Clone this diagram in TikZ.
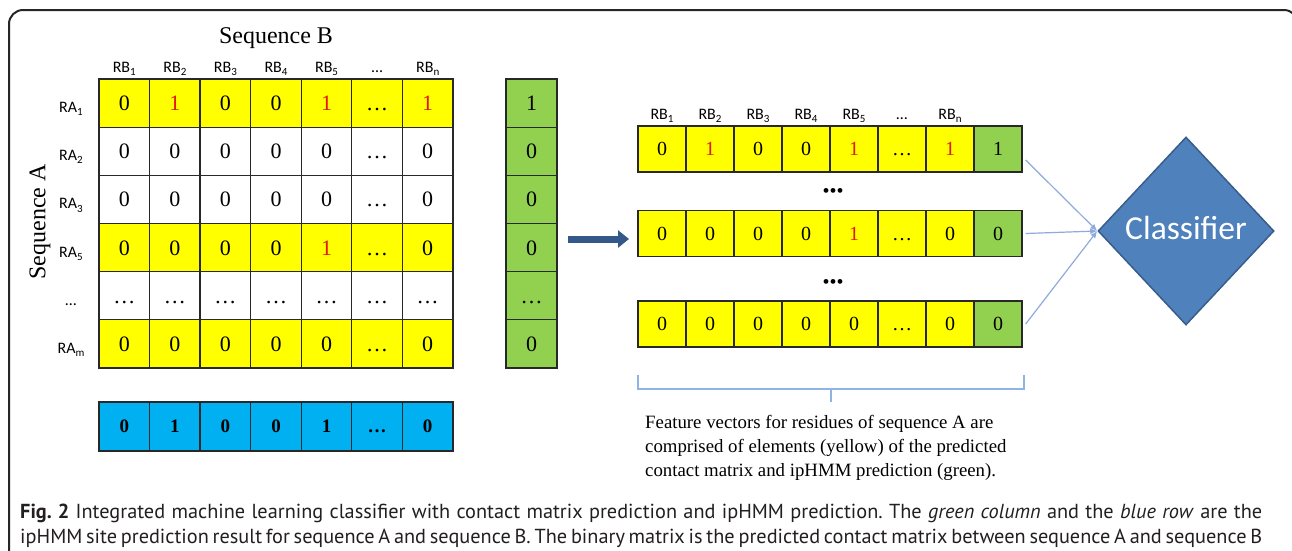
\documentclass[tikz,border=0pt]{standalone}
\usepackage{fontspec}
\setmainfont{Liberation Serif}
\newfontfamily\calfont{Carlito}
\newfontfamily\capfont{PT Sans}
\usetikzlibrary{shapes.geometric,arrows.meta,calc}
\definecolor{cyel}{RGB}{255,255,0}
\definecolor{cgrn}{RGB}{146,208,80}
\definecolor{cblu}{RGB}{0,176,240}
\definecolor{cred}{RGB}{226,24,12}
\definecolor{cdia}{RGB}{79,129,189}
\definecolor{cdiab}{RGB}{56,93,138}
\definecolor{carr}{RGB}{52,88,138}
\definecolor{cline}{RGB}{143,170,220}
\definecolor{cbrk}{RGB}{141,180,226}
\definecolor{cedge}{RGB}{40,40,40}
\definecolor{ccap}{RGB}{35,31,32}
\newcommand{\rone}{\textcolor{cred}{1}}
\newcommand{\sbs}[1]{\raisebox{-0.2em}{\fontsize{11}{11}\selectfont #1}}
\frenchspacing
\begin{document}
\begin{tikzpicture}[x=1pt,y=-1pt,
  mcell/.style={draw=cedge,line width=1.3pt,minimum width=50.6pt,minimum height=48.2pt,inner sep=0pt,
    font=\fontsize{22}{22}\selectfont,text height=14.9pt,text depth=0pt},
  vcell/.style={draw=cedge,line width=1.3pt,minimum width=48pt,minimum height=46pt,inner sep=0pt,
    font=\fontsize{20}{20}\selectfont,text height=13.5pt,text depth=0pt},
  hlab/.style={font=\calfont\fontsize{16}{16}\selectfont,anchor=base,inner sep=0pt},
  seqlab/.style={font=\fontsize{24}{24}\selectfont,inner sep=0pt},
  feat/.style={font=\fontsize{18.8}{18.8}\selectfont,anchor=base west,inner sep=0pt},
  capline/.style={font=\capfont\fontsize{20.3}{20.3}\selectfont,text=ccap,anchor=base west,inner sep=0pt},
  conn/.style={draw=cline,line width=1.2pt,-{Latex[length=7pt,width=6pt]}},
]
\useasboundingbox (0,0) rectangle (1292,550);
\clip (0,0) rectangle (1292,550);
\fill[white] (0,0) rectangle (1292,550);
% frame
\draw[line width=2pt,black!85,rounded corners=14pt] (9,590) -- (9,10) -- (1298,10) -- (1298,590);

% titles
\node[seqlab] (seqB) at (276,38) {Sequence B};
\node[seqlab,rotate=90] (seqA) at (40,222) {Sequence A};

% column headers of matrix
\foreach \t [count=\c] in {RB\sbs{1},RB\sbs{2},RB\sbs{3},RB\sbs{4},RB\sbs{5},…,RB\sbs{n}}
  {\node[hlab] (hB\c) at ({99+50.571*(\c-0.5)},72) {\t};}
% row labels
\foreach \t [count=\r] in {RA\sbs{1},RA\sbs{2},RA\sbs{3},RA\sbs{5},…,RA\sbs{m}}
  {\node[hlab] (hA\r) at (71,{79+48.17*(\r-0.5)+9.5}) {\t};}

% matrix
\foreach \r/\fc/\vals in {1/cyel/{0,\rone,0,0,\rone,…,\rone},2/white/{0,0,0,0,0,…,0},3/white/{0,0,0,0,0,…,0},4/cyel/{0,0,0,0,\rone,…,0},5/white/{…,…,…,…,…,…,…},6/cyel/{0,0,0,0,0,…,0}}
  {\foreach \v [count=\c] in \vals
    {\node[mcell,fill=\fc] (m\r\c) at ({99+50.571*(\c-0.5)},{79+48.17*(\r-0.5)}) {\v};}}

% green column
\foreach \v [count=\r] in {1,0,0,0,…,0}
  {\node[mcell,fill=cgrn,minimum width=51pt] (g\r) at (531.5,{79+48.17*(\r-0.5)}) {\v};}

% blue row
\foreach \v [count=\c] in {0,1,0,0,1,…,0}
  {\node[mcell,fill=cblu,minimum height=49pt,font=\bfseries\fontsize{19}{19}\selectfont,text height=12.9pt] (b\c) at ({99+50.571*(\c-0.5)},426.5) {\v};}

% big arrow
\coordinate (arS) at (568,239);
\coordinate (arE) at (629,239);
\draw[carr,line width=7pt,-{Triangle[length=11pt,width=17pt]}] (arS) -- (arE);

% vector headers
\foreach \t [count=\c] in {RB\sbs{1},RB\sbs{2},RB\sbs{3},RB\sbs{4},RB\sbs{5},…,RB\sbs{n}}
  {\node[hlab] (hV\c) at ({638+48*(\c-0.5)},119) {\t};}

% feature vectors
\foreach \k/\yy/\vals in {1/149/{0,\rone,0,0,\rone,…,\rone,1},2/233.5/{0,0,0,0,\rone,…,0,0},3/324/{0,0,0,0,0,…,0,0}}
  {\foreach \v [count=\c] in \vals
    {\ifnum\c<8 \def\fc{cyel}\else\def\fc{cgrn}\fi
     \node[vcell,fill=\fc] (v\k\c) at ({638+48*(\c-0.5)},\yy) {\v};}}

% dots between vectors
\node[font=\fontsize{20}{20}\selectfont,inner sep=0pt] (dt1) at (833,193) {•••};
\node[font=\fontsize{20}{20}\selectfont,inner sep=0pt] (dt2) at (833,284) {•••};

% classifier
\node[diamond,fill=cdia,draw=cdiab,line width=1.5pt,minimum width=176pt,minimum height=188pt,inner sep=0pt,
  label={[text=white,font=\calfont\fontsize{33.5}{33.5}\selectfont,yshift=3pt]center:Classifier}] (cls) at (1186,231) {};

% connectors
\draw[conn] ($(v18.east)+(3,11)$) -- (cls.west);
\draw[conn] ($(v28.east)+(3,0)$) -- (cls.west);
\draw[conn] ($(v38.east)+(3,0)$) -- (cls.west);

% bracket
\draw[cbrk,line width=1.5pt] (638,375) -- (638,389) -- (1024,389) -- (1024,375);
\draw[cbrk,line width=1.5pt] (831,389) -- (831,402);

% feature text
\node[feat] (f1) at (645,428) {Feature vectors for residues of sequence A are};
\node[feat] (f2) at (645,452) {comprised of elements (yellow) of the predicted};
\node[feat] (f3) at (645,476) {contact matrix and ipHMM prediction (green).};

% caption
\node[capline] (cap1) at (20,518) {\makebox[1242pt][s]{\textbf{Fig.~2} Integrated machine learning classifier with contact matrix prediction and ipHMM prediction. The \textit{green column} and the \textit{blue row} are the}};
\node[capline] (cap2) at (20,543) {\makebox[1242pt][s]{ipHMM site prediction result for sequence A and sequence B. The binary matrix is the predicted contact matrix between sequence A and sequence B}};
\end{tikzpicture}
\end{document}
